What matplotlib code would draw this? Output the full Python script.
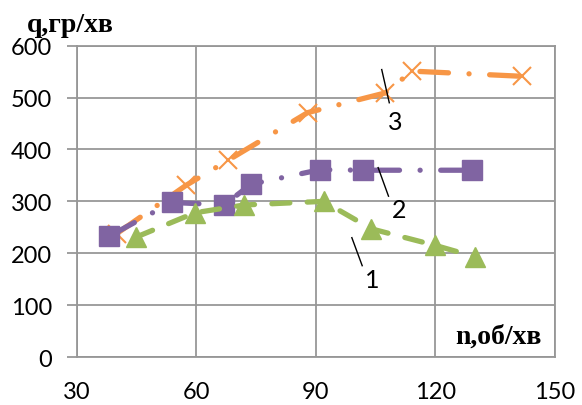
import matplotlib.pyplot as plt

# feed rate q (гр/хв) versus shaft speed n (об/хв), three regimes
n1 = [44.8, 59.6, 72.0, 91.9, 103.9, 120.0, 130.0]
q1 = [231, 278, 293, 300, 247, 215, 193]

n2 = [38.1, 53.8, 66.9, 73.7, 91.0, 101.9, 129.2]
q2 = [233, 298, 293, 333, 361, 360, 360]

n3 = [40.0, 57.4, 67.9, 87.9, 107.4, 114.1, 141.7]
q3 = [238, 331, 379, 471, 509, 551, 541]

xticks = [30, 60, 90, 120, 150]
yticks = [0, 100, 200, 300, 400, 500, 600]

GREEN = '#9BBB59'
PURPLE = '#8064A2'
ORANGE = '#F79646'
GRID = '#979797'

fig = plt.figure(figsize=(5.82, 4.06), dpi=100)
ax = fig.add_axes([0.1323, 0.1182, 0.8213, 0.7668])

LW = 3.8
ax.plot(n3, q3, color=ORANGE, lw=LW, dashes=(5.4, 3.9, 0.01, 3.9), dash_capstyle='round',
        marker='x', markersize=13, markeredgewidth=1.5, zorder=3)
ax.plot(n2, q2, color=PURPLE, lw=LW, dashes=(5.4, 3.9, 0.01, 3.9), dash_capstyle='round',
        marker='s', markersize=14, zorder=4)
ax.plot(n1, q1, color=GREEN, lw=LW, dashes=(3.4, 3.3), dash_capstyle='round',
        marker='^', markersize=15, zorder=5)

# curve numbers with leader lines
num_font = dict(fontsize=18, family='Lato', ha='center', va='center')
ax.plot([106.5, 108.4], [554, 490], color='black', lw=1, zorder=6)
ax.text(109.8, 454, '3', **num_font)
ax.plot([105.6, 108.2], [365, 310], color='black', lw=1, zorder=6)
ax.text(110.8, 285, '2', **num_font)
ax.plot([99.0, 101.6], [230, 176], color='black', lw=1, zorder=6)
ax.text(104.1, 150, '1', **num_font)

ax.set_xlim(30, 150)
ax.set_ylim(0, 600)
ax.set_xticks(xticks)
ax.set_yticks(yticks)
ax.grid(True, color=GRID, lw=1.3)
ax.set_axisbelow(True)
for s in ax.spines.values():
    s.set_color(GRID)
    s.set_linewidth(1.3)
ax.tick_params(axis='y', length=7, width=1.3, color=GRID, labelsize=17, pad=11)
ax.tick_params(axis='x', length=0, labelsize=17, pad=17)
for lab in ax.get_xticklabels() + ax.get_yticklabels():
    lab.set_family('Lato')

fig.text(0.046, 0.938, 'q,гр/хв', family='Liberation Serif', weight='bold',
         fontsize=20, ha='left', va='center')
ax.text(0.972, 0.068, 'n,об/хв', transform=ax.transAxes, family='Liberation Serif',
        weight='bold', fontsize=20, ha='right', va='center')

fig.savefig('out.png', dpi=100)
